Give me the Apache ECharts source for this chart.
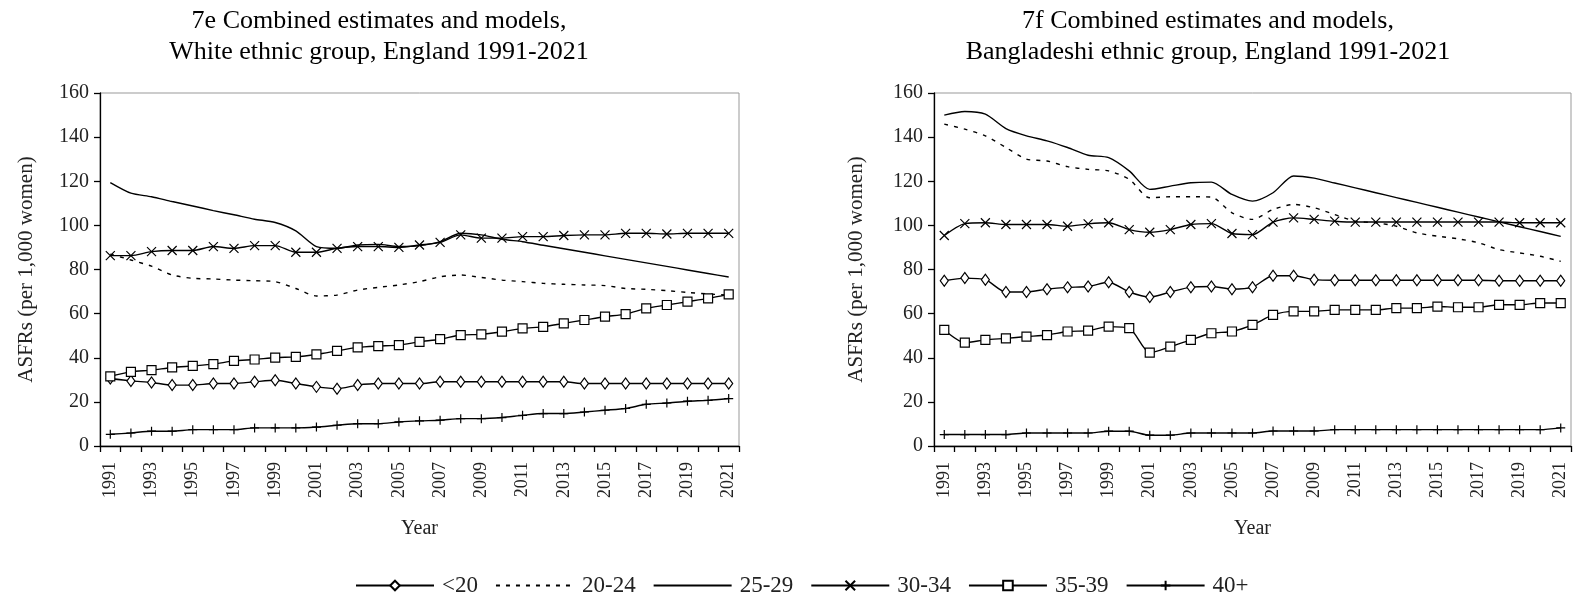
<!DOCTYPE html>
<html>
<head>
<meta charset="utf-8">
<script src="https://cdn.jsdelivr.net/npm/echarts@6/dist/echarts.min.js"></script>
<style>
  html, body { margin: 0; padding: 0; background: #fff; }
  #chart { width: 1578px; height: 601px; }
</style>
</head>
<body>
<div id="chart"></div>
<script>
// Years on the category axis
const years = ['1991','1992','1993','1994','1995','1996','1997','1998','1999','2000',
  '2001','2002','2003','2004','2005','2006','2007','2008','2009','2010',
  '2011','2012','2013','2014','2015','2016','2017','2018','2019','2020','2021'];

const ageGroups = ['<20', '20-24', '25-29', '30-34', '35-39', '40+'];

// Age-specific fertility rates, White ethnic group
const whiteU20  = [30.6,29.5,28.8,27.6,27.6,28.3,28.3,29.1,29.8,28.3,26.8,26.0,27.6,28.3,28.3,28.3,29.1,29.1,29.1,29.1,29.1,29.1,29.1,28.3,28.3,28.3,28.3,28.3,28.3,28.3,28.3];
const white2024 = [87.0,84.3,81.5,77.5,76.0,75.7,75.2,74.9,74.5,71.4,68.0,68.4,70.7,71.9,73.0,74.5,76.7,77.5,76.4,75.2,74.5,73.7,73.3,73.0,72.7,71.4,71.0,70.4,69.6,68.9,68.4];
const white2529 = [119.4,114.6,113.0,110.8,108.8,106.7,104.8,102.8,101.3,97.5,90.4,89.6,91.1,91.4,90.4,90.8,92.6,96.4,95.7,93.7,92.6,91.0,89.4,87.8,86.2,84.6,83.0,81.4,79.8,78.2,76.6];
const white3034 = [86.3,86.3,88.1,88.6,88.6,90.4,89.6,90.8,90.8,87.8,87.8,89.6,90.4,90.4,90.0,91.1,92.3,95.7,94.2,94.2,94.9,94.9,95.4,95.7,95.7,96.4,96.4,96.1,96.4,96.4,96.4];
const white3539 = [31.6,33.6,34.4,35.6,36.3,37.1,38.6,39.2,40.1,40.4,41.5,43.1,44.7,45.3,45.7,47.2,48.4,50.3,50.6,51.8,53.3,54.0,55.6,57.1,58.6,59.8,62.4,63.9,65.4,66.9,68.7];
const white40   = [5.3,5.9,6.7,6.7,7.4,7.4,7.4,8.2,8.2,8.2,8.6,9.4,10.1,10.1,10.9,11.4,11.7,12.4,12.4,12.9,13.9,14.7,14.7,15.4,16.2,17.0,18.9,19.5,20.3,20.7,21.5];

// Age-specific fertility rates, Bangladeshi ethnic group
const bangU20  = [74.9,76.1,75.4,69.8,69.8,71.1,71.9,72.3,74.2,69.8,67.5,69.8,72.0,72.3,71.1,72.0,77.2,77.2,75.4,75.1,75.1,75.1,75.1,75.1,75.1,75.1,75.1,74.9,74.9,74.9,74.9];
const bang2024 = [145.9,143.6,140.6,135.3,130.0,129.2,126.6,125.4,124.7,120.9,112.5,113.0,113.0,112.8,105.7,102.7,107.2,109.5,108.0,104.9,101.9,101.2,99.6,96.6,95.1,93.9,92.1,89.0,87.5,86.0,83.7];
const bang2529 = [150.0,151.6,150.4,143.9,140.6,138.3,135.3,131.8,130.7,124.7,116.3,117.8,119.3,119.6,114.0,111.0,114.8,122.4,121.4,119.2,117.0,114.8,112.6,110.4,108.2,106.0,103.8,101.6,99.4,97.2,95.0];
const bang3034 = [95.4,100.8,101.2,100.4,100.4,100.4,99.6,100.7,101.2,98.1,96.9,98.1,100.4,100.8,96.3,95.8,101.5,103.4,102.7,101.9,101.5,101.5,101.5,101.5,101.5,101.5,101.5,101.5,101.2,101.2,101.2];
const bang3539 = [52.6,46.9,48.1,48.8,49.6,50.3,51.9,52.3,54.1,53.4,42.3,45.0,48.1,51.1,51.9,54.9,59.4,61.0,61.0,61.7,61.7,61.7,62.5,62.5,63.2,62.9,62.9,64.0,64.0,64.8,64.8];
const bang40   = [5.2,5.2,5.2,5.2,5.9,5.9,5.9,5.9,6.7,6.7,4.9,4.9,5.9,5.9,5.9,5.9,6.8,6.8,6.8,7.4,7.4,7.4,7.4,7.4,7.4,7.4,7.4,7.4,7.4,7.4,8.2];

const FONT = "'Liberation Serif', 'Times New Roman', serif";

// Marker and line style for each age group
const styles = {
  '<20':   { symbol: 'diamond', symbolSize: [8, 11] },
  '20-24': { symbol: 'none', dash: [4, 6] },
  '25-29': { symbol: 'none' },
  '30-34': { symbol: 'path://M0,0L10,10M0,10L10,0', symbolSize: 9 },
  '35-39': { symbol: 'rect', symbolSize: 9 },
  '40+':   { symbol: 'path://M5,0L5,10M0,5L10,5', symbolSize: 9 }
};

function makeSeries(name, data, gridIdx) {
  const s = styles[name];
  return {
    name: name,
    type: 'line',
    xAxisIndex: gridIdx,
    yAxisIndex: gridIdx,
    data: data,
    smooth: 0.25,
    symbol: s.symbol,
    symbolSize: s.symbolSize || 8,
    showSymbol: s.symbol !== 'none',
    lineStyle: { color: '#000', width: 1.4, type: s.dash || 'solid' },
    itemStyle: { color: '#fff', borderColor: '#000', borderWidth: 1.2 },
    emphasis: { disabled: true },
    animation: false
  };
}

function xAxisFor(gridIdx) {
  return {
    type: 'category',
    gridIndex: gridIdx,
    data: years,
    boundaryGap: true,
    name: 'Year',
    nameLocation: 'middle',
    nameGap: 73,
    nameTextStyle: { fontFamily: FONT, fontSize: 20, color: '#222' },
    axisLine: { lineStyle: { color: '#000', width: 1.3 } },
    axisTick: { show: true, interval: 0, length: 6, lineStyle: { color: '#000', width: 1.3 } },
    axisLabel: { interval: 1, rotate: 90, margin: 16, fontFamily: FONT, fontSize: 18, color: '#222' },
    splitLine: { show: false }
  };
}

function yAxisFor(gridIdx, gap) {
  return {
    type: 'value',
    gridIndex: gridIdx,
    min: 0, max: 160, interval: 20,
    name: 'ASFRs (per 1,000 women)',
    nameLocation: 'middle',
    nameGap: gap,
    nameTextStyle: { fontFamily: FONT, fontSize: 21, color: '#222' },
    axisLine: { show: true, lineStyle: { color: '#000', width: 1.3 } },
    axisTick: { show: true, length: 6, lineStyle: { color: '#000', width: 1.3 } },
    axisLabel: { margin: 11, fontFamily: FONT, fontSize: 20, color: '#222' },
    splitLine: { show: false }
  };
}

const series = [];
[whiteU20, white2024, white2529, white3034, white3539, white40].forEach((d, i) => series.push(makeSeries(ageGroups[i], d, 0)));
[bangU20, bang2024, bang2529, bang3034, bang3539, bang40].forEach((d, i) => series.push(makeSeries(ageGroups[i], d, 1)));

// Legend entries: plain-line groups carry no marker
const legendData = ageGroups.map(name =>
  styles[name].symbol === 'none' ? { name: name, itemStyle: { opacity: 0 } } : { name: name });

const titleStyle = { fontFamily: FONT, fontSize: 26, fontWeight: 'normal', color: '#000', lineHeight: 31 };

const chart = echarts.init(document.getElementById('chart'), null, { renderer: 'canvas' });
chart.setOption({
  backgroundColor: '#fff',
  animation: false,
  title: [
    {
      text: '7e Combined estimates and models,\nWhite ethnic group, England 1991-2021',
      left: 374, top: 1, textAlign: 'center', textStyle: titleStyle
    },
    {
      text: '7f Combined estimates and models,\nBangladeshi ethnic group, England 1991-2021',
      left: 1203, top: 1, textAlign: 'center', textStyle: titleStyle
    }
  ],
  legend: {
    data: legendData,
    top: 569,
    left: 350,
    itemWidth: 78,
    itemHeight: 12,
    itemGap: 17,
    selectedMode: false,
    textStyle: { fontFamily: FONT, fontSize: 23, color: '#222', padding: [0, 0, 0, 3] }
  },
  grid: [
    { left: 100, top: 93, width: 639, height: 353, show: true, borderColor: '#999', borderWidth: 1, backgroundColor: '#fff' },
    { left: 934, top: 93, width: 637, height: 353, show: true, borderColor: '#999', borderWidth: 1, backgroundColor: '#fff' }
  ],
  xAxis: [xAxisFor(0), xAxisFor(1)],
  yAxis: [yAxisFor(0, 63), yAxisFor(1, 67)],
  series: series
});
</script>
</body>
</html>
